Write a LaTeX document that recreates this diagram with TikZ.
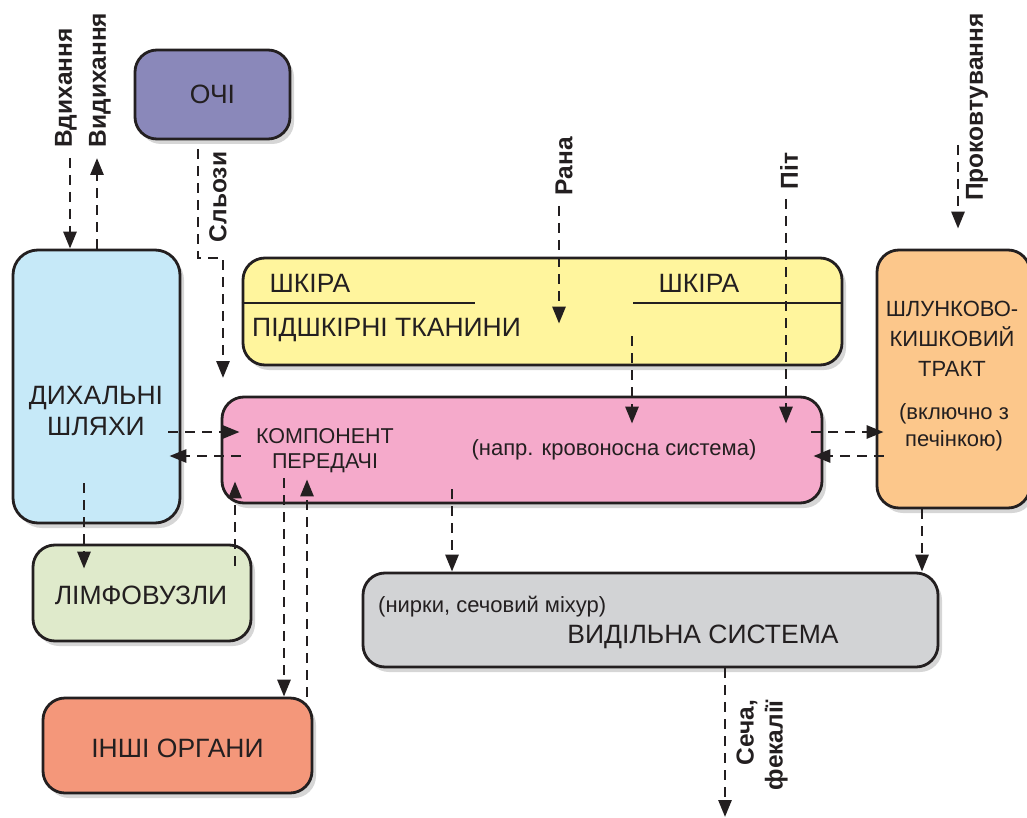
\documentclass[tikz,border=0pt]{standalone}
\usepackage{fontspec}
\setmainfont{Liberation Sans}
\usetikzlibrary{arrows.meta,calc,shadows}
\definecolor{ink}{HTML}{231F20}
\definecolor{cOchi}{HTML}{8A88BA}
\definecolor{cDsh}{HTML}{C6E9F8}
\definecolor{cSkin}{HTML}{FFF59D}
\definecolor{cPink}{HTML}{F5AACB}
\definecolor{cGut}{HTML}{FCC78B}
\definecolor{cLymph}{HTML}{DFEACB}
\definecolor{cExcr}{HTML}{D2D3D5}
\definecolor{cOther}{HTML}{F4977A}
\begin{document}
\begin{tikzpicture}[x=1pt,y=-1pt,
  box/.style={draw=ink, line width=2.8pt, rounded corners=22pt, inner sep=0pt,
    drop shadow={shadow xshift=4pt,shadow yshift=-5pt,opacity=0.16,fill=black}},
  dar/.style={draw=ink, line width=2.8pt, dash pattern=on 10pt off 7pt,
    -{Triangle[length=17pt,width=13pt]}},
  divider/.style={draw=ink, line width=2.4pt},
  big/.style={font=\fontsize{26.5}{31}\selectfont, text=ink},
  small/.style={font=\fontsize{22}{25}\selectfont, text=ink},
  lab/.style={font=\fontsize{24.5}{29}\selectfont\bfseries, text=ink, rotate=90, inner sep=0pt},
]
\useasboundingbox (0,0) rectangle (1027,818);
\clip (0,0) rectangle (1027,818);
\fill[white] (0,0) rectangle (1027,818);

% boxes
\node[box, fill=cOchi, minimum width=155pt, minimum height=89pt] (ochi) at (212.5,94.5) {};
\node[box, fill=cDsh, rounded corners=25pt, minimum width=167pt, minimum height=273pt] (dsh) at (96.5,386.5) {};
\node[box, fill=cSkin, minimum width=599pt, minimum height=107pt] (skin) at (542.5,311.5) {};
\node[box, fill=cPink, minimum width=600pt, minimum height=106pt] (pink) at (522,450) {};
\node[box, fill=cGut, minimum width=153pt, minimum height=258pt] (gut) at (953.5,379) {};
\node[box, fill=cLymph, minimum width=218pt, minimum height=96pt] (lymph) at (142,593) {};
\node[box, fill=cExcr, minimum width=575pt, minimum height=94pt] (excr) at (650.5,620) {};
\node[box, fill=cOther, minimum width=269pt, minimum height=95pt] (other) at (177.5,745.5) {};

% skin dividers
\draw[divider] (skin.west |- 0,303) -- (475,303);
\draw[divider] (633,303) -- (skin.east |- 0,303);

% texts
\node[big] (tochi) at (ochi) {ОЧІ};
\node[big, align=center] (tdsh) at (96,410.5) {ДИХАЛЬНІ\\ШЛЯХИ};
\node[big] (sk1) at (310,283) {ШКІРА};
\node[big] (sk2) at (699,283) {ШКІРА};
\node[big, anchor=west, inner sep=0pt] (sk3) at (252,330) {ПІДШКІРНІ ТКАНИНИ};
\node[font=\fontsize{21.5}{25}\selectfont, text=ink, align=center] (tcomp) at (325,451) {КОМПОНЕНТ\\ПЕРЕДАЧІ};
\node[small] (tblood) at (614,450) {(напр. кровоносна система)};
\node[font=\fontsize{22}{30}\selectfont, text=ink, align=center] (tgut) at (952,339) {ШЛУНКОВО-\\КИШКОВИЙ\\ТРАКТ};
\node[font=\fontsize{22}{27}\selectfont, text=ink, align=center] (tliver) at (954,427) {(включно з\\печінкою)};
\node[big] (tlymph) at (141,595) {ЛІМФОВУЗЛИ};
\node[small, anchor=west, inner sep=0pt] (tkid) at (378,607) {(нирки, сечовий міхур)};
\node[big] (texcr) at (703,637) {ВИДІЛЬНА СИСТЕМА};
\node[big] (tother) at (177.5,748) {ІНШІ ОРГАНИ};

% free ends
\coordinate (inA) at (70,158);
\coordinate (exA) at (97,158);
\coordinate (tearA) at (198,258);
\coordinate (tearB) at (223,258);
\coordinate (tearC) at (223,378);
\coordinate (woundA) at (559,206);
\coordinate (sweatA) at (786,199);
\coordinate (swA) at (958,145);
\coordinate (urA) at (725,817);

% connectors
\draw[dar] (inA) -- (dsh.north -| inA);
\draw[dar] (dsh.north -| exA) -- (exA);
\draw[dar] ($(ochi.south -| tearA)+(0,9)$) -- (tearA) -- (tearB) -- (tearC);
\draw[dar] (woundA) -- ($(skin.north -| woundA)+(0,67)$);
\draw[dar] ($(skin.south -| 632,0)+(0,-30)$) -- ($(pink.north -| 632,0)+(0,28)$);
\draw[dar] (sweatA) -- ($(pink.north -| sweatA)+(0,28)$);
\draw[dar] ($(dsh.east |- 0,432)+(-13,0)$) -- ($(pink.west |- 0,432)+(19,0)$);
\draw[dar] ($(pink.west |- 0,456)+(20,0)$) -- ($(dsh.east |- 0,456)+(-12,0)$);
\draw[dar] ($(dsh.south -| 84,0)+(0,-41)$) -- ($(lymph.north -| 84,0)+(0,25)$);
\draw[dar] ($(lymph.north -| 235,0)+(0,22)$) -- ($(pink.south -| 235,0)+(0,-23)$);
\draw[dar] ($(pink.south -| 284,0)+(0,-26)$) -- (other.north -| 284,0);
\draw[dar] (other.north -| 307,0) -- ($(pink.south -| 307,0)+(0,-25)$);
\draw[dar] ($(pink.south -| 452,0)+(0,-15)$) -- (excr.north -| 452,0);
\draw[dar] ($(pink.east |- 0,432)+(-12,0)$) -- ($(gut.west |- 0,432)+(8,0)$);
\draw[dar] ($(gut.west |- 0,456)+(8,0)$) -- ($(pink.east |- 0,456)+(-10,0)$);
\draw[dar] (gut.south -| 922,0) -- (excr.north -| 922,0);
\draw[dar] (swA) -- ($(gut.north -| swA)+(0,-20)$);
\draw[dar] (excr.south -| urA) -- (urA);

% labels
\node[lab] (lInh) at (66,88) {Вдихання};
\node[lab] (lExh) at (100,80) {Видихання};
\node[lab] (lTear) at (218,197) {Сльози};
\node[lab] (lWound) at (564,166) {Рана};
\node[lab] (lSweat) at (789,171) {Піт};
\node[lab] (lSwal) at (977,107) {Проковтування};
\node[lab, align=right, anchor=east] (lUr) at (762,700) {Сеча,\\фекалії};
\end{tikzpicture}
\end{document}
